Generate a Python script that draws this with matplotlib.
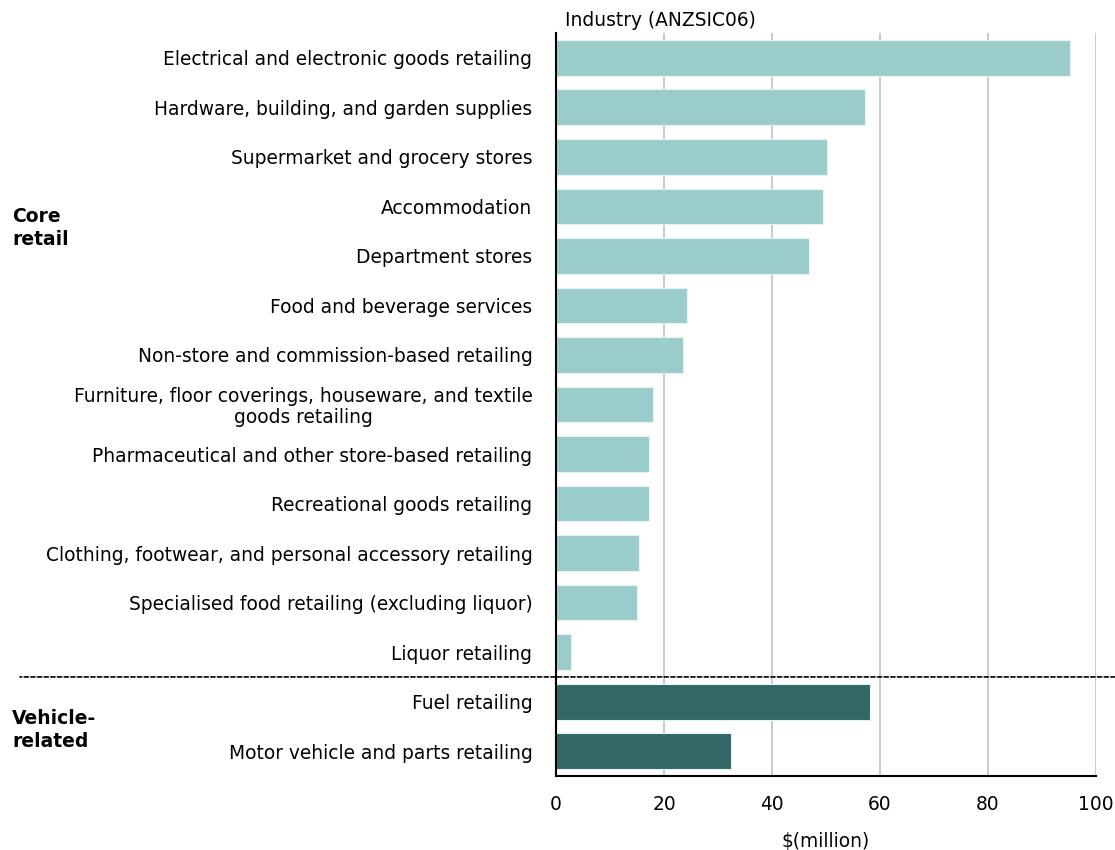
import matplotlib
matplotlib.use("Agg")
from matplotlib import pyplot as plt

plt.rcParams["font.family"] = ["DejaVu Sans"]

# data, top to bottom
core_labels = [
    "Electrical and electronic goods retailing",
    "Hardware, building, and garden supplies",
    "Supermarket and grocery stores",
    "Accommodation",
    "Department stores",
    "Food and beverage services",
    "Non-store and commission-based retailing",
    "Furniture, floor coverings, houseware, and textile\ngoods retailing",
    "Pharmaceutical and other store-based retailing",
    "Recreational goods retailing",
    "Clothing, footwear, and personal accessory retailing",
    "Specialised food retailing (excluding liquor)",
    "Liquor retailing",
]
core_values = [95.1, 57.2, 50.2, 49.4, 46.9, 24.2, 23.5, 18.0, 17.2, 17.2, 15.4, 15.0, 2.8]

vehicle_labels = ["Fuel retailing", "Motor vehicle and parts retailing"]
vehicle_values = [58.2, 32.4]

x_ticks = [0, 20, 40, 60, 80, 100]

CORE_COLOR = "#9bcccc"
VEHICLE_COLOR = "#336666"
FS = 13.4

labels = core_labels + vehicle_labels
values = core_values + vehicle_values
colors = [CORE_COLOR] * len(core_labels) + [VEHICLE_COLOR] * len(vehicle_labels)
ypos = list(range(len(labels)))

fig = plt.figure(figsize=(11.15, 8.5), dpi=100)
ax = fig.add_axes([556 / 1115, 1 - 776 / 850, 540 / 1115, (776 - 33) / 850])

ax.barh(ypos, values, height=0.72, color=colors, edgecolor="#e6f2f2", linewidth=0.8, zorder=3)
ax.set_ylim(len(labels) - 0.5, -0.5)
ax.set_xlim(0, 100)
ax.set_xticks(x_ticks)
ax.set_yticks(ypos)
ax.set_yticklabels(labels, fontsize=FS, multialignment="center", linespacing=1.1)
ax.tick_params(axis="y", length=0, pad=17)
ax.tick_params(axis="x", length=0, pad=14, labelsize=FS)

ax.grid(axis="x", color="#cccccc", linewidth=1.5, zorder=0)
for side in ["top", "right"]:
    ax.spines[side].set_visible(False)
ax.spines["left"].set_linewidth(1.5)
ax.spines["bottom"].set_linewidth(1.5)
ax.spines["left"].set_zorder(4)

ax.set_xlabel("$(million)", fontsize=FS, labelpad=13)

# dashed separator between the two groups, running out to the figure edges
sep_y = len(core_labels) - 0.5
ax.annotate("", xy=(20 / 1115, sep_y), xycoords=("figure fraction", "data"),
            xytext=(1.0, sep_y), textcoords=("figure fraction", "data"),
            arrowprops=dict(arrowstyle="-", linestyle=(0, (2.5, 1.5)), color="black", lw=1.2,
                            shrinkA=0, shrinkB=0))

fig.text(12 / 1115, 1 - 228 / 850, "Core\nretail", fontsize=13.5, fontweight="bold",
         va="center", ha="left", linespacing=1.25)
fig.text(12 / 1115, 1 - 730 / 850, "Vehicle-\nrelated", fontsize=13.5, fontweight="bold",
         va="center", ha="left", linespacing=1.25)
fig.text(565 / 1115, 1 - 21 / 850, "Industry (ANZSIC06)", fontsize=FS, va="center", ha="left")

fig.savefig("out.png", dpi=100)
